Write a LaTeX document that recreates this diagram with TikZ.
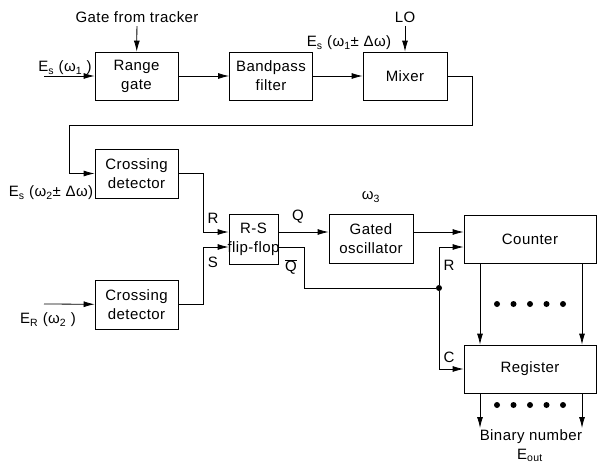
\documentclass[tikz,border=0pt]{standalone}
\usepackage{fontspec}
\setmainfont{Liberation Sans}[LetterSpace=3]
\usetikzlibrary{arrows.meta,positioning,calc}

\tikzset{
  blk/.style={draw, line width=0.8pt, minimum width=83pt, minimum height=48pt, align=center, inner sep=1pt},
  arr/.style={-{Latex[length=11pt,width=6pt]}, line width=0.8pt},
  wire/.style={line width=0.8pt},
  bigdot/.style={circle, fill, inner sep=0pt, minimum size=6pt},
}
\newcommand{\sub}[1]{\textsubscript{#1}}

\begin{document}
\begin{tikzpicture}[x=1pt, y=-1pt, font=\fontsize{15}{19}\selectfont]
  \useasboundingbox (0,0) rectangle (597,463);

  % blocks
  \node[blk] (rangegate) at (136.5,76) {Range\\gate};
  \node[blk] (bpf) at (271,76) {Bandpass\\filter};
  \node[blk, minimum width=84pt] (mixer) at (405,76) {Mixer};
  \node[blk, minimum height=49pt] (cross1) at (136.5,173.5) {Crossing\\detector};
  \node[blk, minimum height=49pt] (cross2) at (136.5,304.5) {Crossing\\detector};
  \node[blk, minimum width=49pt, minimum height=50pt] (rsff) at (253.5,239) {};
  \node[align=center] (rstext) at (rsff) {R-S\\flip-flop};
  \node[blk, minimum width=84pt, minimum height=49pt] (gosc) at (371,239) {Gated\\oscillator};
  \node[blk, minimum width=132pt] (counter) at (530,239) {Counter};
  \node[blk, minimum width=132pt] (register) at (530,369) {Register};

  % inputs
  \node (gft) at (137,17) {Gate from tracker};
  \draw[arr] (gft) -- (rangegate);
  \node (lo) at (405,17) {LO};
  \draw[arr] (lo) -- (mixer);
  \coordinate (in1) at (44,76);
  \node (esw1) at (65,68) {E\sub{s} (ω\sub{1} )};
  \draw[arr] (in1) -- (rangegate);
  \draw[arr] (rangegate) -- (bpf);
  \draw[arr] (bpf) -- (mixer);
  \node (esw1d) at (349,43) {E\sub{s} (ω\sub{1}± Δω)};

  % feedback from mixer
  \coordinate (fb1) at (472,125);
  \coordinate (fb2) at (69,125);
  \draw[arr] (mixer.east) -| (fb1) -- (fb2) |- (cross1.west);
  \node (esw2) at (51,193) {E\sub{s} (ω\sub{2}± Δω)};

  \coordinate (in2) at (44,304);
  \draw[arr] (in2) -- (cross2);
  \node (erw2) at (48,320) {E\sub{R} (ω\sub{2} )};

  % flip-flop
  \coordinate (jr) at (203,173.5);
  \coordinate (js) at (203,304.5);
  \draw[arr] (cross1.east) -- (jr) |- ([yshift=7pt]rsff.west);
  \draw[arr] (cross2.east) -- (js) |- ([yshift=-8pt]rsff.west);
  \node (lr) at (213,218) {R};
  \node (ls) at (213,262) {S};
  \draw[arr] ([yshift=7pt]rsff.east) -- ([yshift=7pt]gosc.west);
  \node (lq) at (298,217) {Q};
  \node (lqb) at (291,267) {$\overline{\mbox{Q}}$};
  \node (w3) at (371,197) {ω\sub{3}};

  % counter and register
  \node[bigdot] (jn) at (439,288) {};
  \coordinate (qb) at (304,288);
  \draw[wire] ([yshift=-8pt]rsff.east) -| (qb) -- (jn);
  \draw[arr] ([yshift=7pt]gosc.east) -- ([yshift=7pt]counter.west);
  \draw[arr] (jn) |- ([yshift=-8pt]counter.west);
  \draw[arr] (jn) |- (register.west);
  \node (lr2) at (449,265) {R};
  \node (lc) at (449,357) {C};
  \draw[arr] ([xshift=-50pt]counter.south) -- ([xshift=-50pt]register.north);
  \draw[arr] ([xshift=52pt]counter.south) -- ([xshift=52pt]register.north);
  \foreach \i in {0,...,4}
    \node[bigdot] (cd\i) at (497+16.5*\i,304) {};
  \coordinate (o1) at (480,428);
  \coordinate (o2) at (582,428);
  \draw[arr] ([xshift=-50pt]register.south) -- (o1);
  \draw[arr] ([xshift=52pt]register.south) -- (o2);
  \foreach \i in {0,...,4}
    \node[bigdot] (rd\i) at (497+16.5*\i,405) {};
  \node (binnum) at (531,437) {Binary number};
  \node (eout) at (530,455) {E\sub{out}};
\end{tikzpicture}
\end{document}
